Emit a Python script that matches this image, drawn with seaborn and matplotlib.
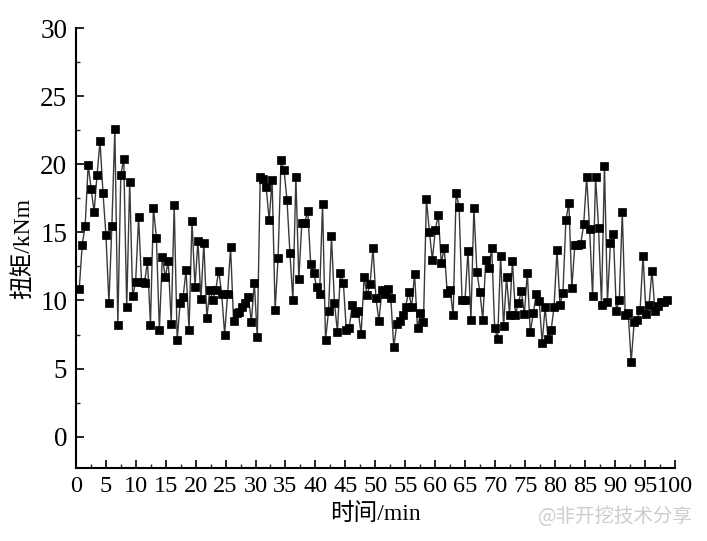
import numpy as np
import pandas as pd
import matplotlib
matplotlib.use("Agg")
import matplotlib.pyplot as plt
from matplotlib.ticker import MultipleLocator
import seaborn as sns

# Torque readings (kNm), in time order
torque_part1 = [10.86, 14.1, 15.5, 19.96, 18.2, 16.5, 19.2, 21.7, 17.9, 14.8, 9.8, 15.5,
                22.6, 8.2, 19.2, 20.4, 9.5, 18.7, 10.3, 11.35, 16.1, 11.35, 11.3, 12.9,
                8.2, 16.8, 14.6, 7.85, 13.2, 11.7, 12.9, 8.3, 17.0]
torque_part2 = [7.1, 9.8, 10.25, 12.25, 7.85, 15.85, 11.0, 14.4, 10.1, 14.25, 8.7, 10.8,
                10.05, 10.8, 12.2, 10.5, 7.5, 10.5, 13.9, 8.5, 9.1, 9.15, 9.55, 9.85,
                10.25, 8.45, 11.3, 7.3, 19.1, 18.95, 18.3, 15.9, 18.85]
torque_part3 = [9.3, 13.1, 20.3, 19.6, 17.4, 13.5, 10.0, 19.05, 11.55, 15.7, 15.7, 16.6,
                12.7, 12.05, 11.0, 10.5, 17.1, 7.1, 9.2, 14.7, 9.85, 7.7, 12.0, 11.3,
                7.85, 8.0, 9.7, 9.1, 9.2, 7.55, 11.7, 10.4, 11.2, 13.85]
torque_part4 = [10.15, 8.5, 10.8, 10.5, 10.85, 10.15, 6.55, 8.3, 8.5, 8.9, 9.55, 10.65,
                9.5, 11.95, 7.95, 9.1, 8.4, 17.45, 15.05, 13.0, 15.2, 16.3, 12.75, 13.85,
                10.55, 10.8, 8.9, 17.9, 16.9, 10.05, 10.05, 13.65, 8.6, 16.8]
torque_part5 = [12.1, 10.65, 8.6, 13.0, 12.4, 13.85, 7.95, 7.15, 13.3, 8.1, 11.7, 8.97,
                12.9, 8.97, 9.85, 10.7, 9.0, 12.05, 7.65, 9.07, 10.45, 9.95, 6.9, 9.5,
                7.15, 7.8, 9.5, 13.7, 9.7, 10.55, 15.9, 17.15, 10.9]
torque_part6 = [14.05, 14.1, 14.15, 15.6, 19.05, 15.25, 10.3, 19.1, 15.35, 9.7, 19.9, 9.9,
                14.2, 14.9, 9.25, 10.05, 16.5, 8.9, 9.1, 5.5, 8.4, 8.55, 9.3, 13.3,
                9.0, 9.65, 12.2, 9.25, 9.6, 9.9, 9.9, 10.0]

torque = (torque_part1 + torque_part2 + torque_part3 +
          torque_part4 + torque_part5 + torque_part6)
t_start, t_end = 0.6, 98.6          # first / last sampling time (min)
time_min = np.linspace(t_start, t_end, len(torque))

x_ticks = list(range(0, 101, 5))
y_ticks = list(range(0, 31, 5))
x_label = "时间/min"
y_label = "扭矩/kNm"
watermark = "@非开挖技术分享"

df = pd.DataFrame({"time": time_min, "torque": torque})

sns.set_theme(style="ticks")
plt.rcParams["font.family"] = ["Liberation Serif", "Noto Sans CJK SC", "DejaVu Sans"]
plt.rcParams["axes.unicode_minus"] = False

fig = plt.figure(figsize=(7.07, 5.41), dpi=100)
ax = fig.add_axes([0.107, 0.135, 0.848, 0.813])

sns.lineplot(data=df, x="time", y="torque", ax=ax, color="#3a3a3a", linewidth=1.0,
             marker="s", markersize=5.5, markerfacecolor="black",
             markeredgecolor="black", markeredgewidth=0.5)

ax.set_xlim(0, 100)
ax.set_ylim(-2.3, 30)
ax.set_xticks(x_ticks)
ax.set_yticks(y_ticks)
ax.xaxis.set_minor_locator(MultipleLocator(2.5))
ax.yaxis.set_minor_locator(MultipleLocator(2.5))
ax.tick_params(axis="both", which="major", direction="in", length=6, width=1.2,
               colors="black", pad=6)
ax.tick_params(axis="y", which="major", labelsize=19.5)
ax.tick_params(axis="x", which="major", labelsize=17.5)
ax.tick_params(axis="both", which="minor", direction="in", length=3, width=1.0)
for lbl in ax.get_xticklabels() + ax.get_yticklabels():
    lbl.set_fontfamily("Liberation Serif")

for s in ["top", "right"]:
    ax.spines[s].set_visible(False)
for s in ["left", "bottom"]:
    ax.spines[s].set_linewidth(1.5)
    ax.spines[s].set_color("black")

ax.set_xlabel(x_label, fontsize=17, color="black", labelpad=4)
ax.set_ylabel(y_label, fontsize=17, color="black", labelpad=4)

fig.text(0.98, 0.045, watermark, ha="right", va="center", fontsize=14,
         color="#b8b8b8", alpha=0.7, family=["Noto Sans CJK SC", "DejaVu Sans"])

fig.savefig("out.png", dpi=100)
